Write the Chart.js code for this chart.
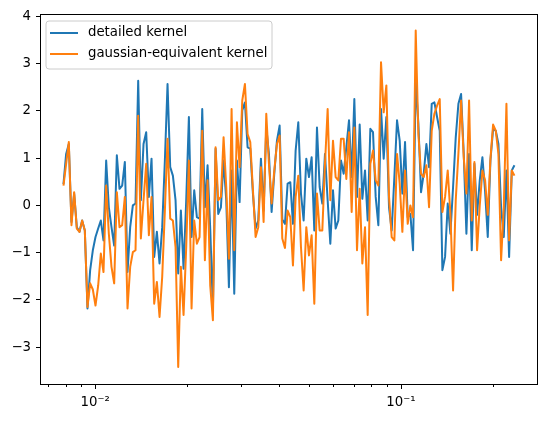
<!DOCTYPE html>
<html>
<head>
<meta charset="utf-8">
<script src="https://cdn.jsdelivr.net/npm/chart.js@4/dist/chart.umd.min.js"></script>
<style>
  html, body { margin: 0; padding: 0; background: #fff; }
  #wrap { width: 546px; height: 422px; }
</style>
</head>
<body>
<div id="wrap"><canvas id="kernelChart" width="546" height="422"></canvas></div>
<script>
// frequency grid (log spaced samples)
const N = 170;
const xStart = 0.007876;
const xEnd = 0.2350;
const freqs = Array.from({ length: N }, (_, i) => xStart * Math.pow(xEnd / xStart, i / (N - 1)));

const detailed = [
  0.45, 1.09, 1.30, -0.35, 0.25, -0.46, -0.56, -0.32, -0.53, -2.18,
  -1.37, -0.95, -0.67, -0.49, -0.32, -0.74, 0.95, -0.04, -0.46, -0.85,
  1.06, 0.35, 0.42, 0.92, -1.41, -0.46, 0.00, 0.04, 2.64, 0.11,
  1.30, 1.55, 0.18, 0.99, -1.09, -0.56, -1.23, -0.46, 0.95, 2.57,
  0.81, 0.63, 0.11, -1.44, -0.11, -1.34, 0.11, 1.87, -0.67, 0.32,
  -0.25, -0.28, 2.04, -0.04, 0.85, -0.50, -2.20, 1.20, -0.18, -0.04,
  0.95, 0.11, -1.73, 0.74, -1.87, 0.95, 0.07, 2.01, 2.18, 1.23,
  1.20, 0.25, -0.49, -0.32, 0.99, -0.11, 1.65, 1.09, -0.14, 0.67,
  1.37, 1.69, -0.30, -0.39, 0.46, 0.49, -0.39, 1.16, 1.76, 0.25,
  -0.32, 0.99, 0.60, 1.02, -0.53, 1.65, 0.39, 0.04, 1.09, 0.11,
  -0.81, 0.32, -0.49, -0.32, 0.95, 0.67, 1.23, 1.80, 0.60, 2.25,
  0.18, 1.71, 0.14, 0.74, -0.32, 1.62, 1.55, 0.18, -0.42, 2.04,
  0.99, 1.87, -0.04, -0.53, 0.60, 1.80, 1.37, 0.25, 1.34, -0.25,
  -0.18, -0.95, 2.64, 1.73, 0.28, 0.67, 1.30, 0.81, 2.15, 2.18,
  1.87, 1.58, -1.37, -1.09, 0.04, -0.60, 0.39, 1.44, 2.15, 2.36,
  1.09, -0.60, 1.09, -0.95, 0.88, -0.20, 0.53, 1.02, 0.30, -0.67,
  0.95, 1.62, 1.58, 1.30, -0.04, -0.67, 0.74, -1.09, 0.74, 0.85
];

const gaussianEq = [
  0.42, 0.88, 1.34, -0.42, 0.28, -0.49, -0.56, -0.32, -0.53, -2.15,
  -1.65, -1.78, -2.12, -1.70, -1.02, -1.41, 0.42, -0.60, -1.30, -1.65,
  0.28, -0.46, -0.42, 0.18, -2.18, -1.30, -0.99, -0.95, 1.90, -0.70,
  0.11, 0.88, -0.63, 0.18, -2.08, -1.62, -2.36, -1.51, -0.11, 1.41,
  -0.28, -0.32, -0.88, -3.42, -1.30, -2.32, -0.88, 0.95, -2.18, -0.32,
  -0.81, -0.67, 1.58, -1.16, 0.53, -1.70, -2.43, 1.23, 0.11, 0.18,
  1.44, 0.39, -1.13, 2.04, -0.95, 1.76, 0.81, 2.22, 2.57, 1.51,
  1.34, 0.32, -0.67, -0.46, 0.81, -0.35, 1.94, 0.88, 0.04, 0.74,
  1.30, 1.48, -0.70, -0.90, -0.11, -0.25, -1.27, 0.18, 0.63, -0.88,
  -1.80, -0.46, -1.06, -0.63, -2.08, 0.25, -0.53, -0.53, 0.88, 2.04,
  0.11, 1.37, 0.60, 0.53, 1.41, 1.41, 0.56, 1.55, -0.14, 1.65,
  -0.95, 0.35, -1.23, -0.46, -2.32, 0.88, 1.16, 0.53, 0.42, 3.03,
  1.97, 2.54, 0.18, -0.67, -0.74, 1.09, 0.46, -0.56, 0.74, -0.39,
  0.00, -0.25, 3.70, 1.51, 0.67, 0.60, 0.85, -0.04, 1.58, 1.94,
  2.11, 2.25, -0.14, 0.18, 0.74, -0.18, -1.80, 0.11, 1.10, 2.22,
  1.02, 0.25, 2.22, -0.32, 0.92, -0.95, 0.00, 0.74, 0.53, -0.20,
  0.98, 1.71, 1.58, 1.09, -1.16, -0.04, 2.15, -0.74, 0.74, 0.63
];

const seriesLabels = ['detailed kernel', 'gaussian-equivalent kernel'];
const xMajorTicks = [0.01, 0.1];
const xMinorTicks = [0.007, 0.008, 0.009, 0.02, 0.03, 0.04, 0.05, 0.06, 0.07, 0.08, 0.09, 0.2];
const yTicks = [-3, -2, -1, 0, 1, 2, 3, 4];

const supers = { '-': '\u207B', '1': '\u00B9', '2': '\u00B2', '3': '\u00B3' };
function powLabel(v) {
  const e = String(Math.round(Math.log10(v)));
  return '10' + e.split('').map(c => supers[c] || c).join('');
}

const FONT_SIZE = 13.3;
Chart.defaults.font.family = "'DejaVu Sans', sans-serif";
Chart.defaults.font.size = FONT_SIZE;
Chart.defaults.color = '#000';

// frame + x tick marks (major longer than minor)
const framePlugin = {
  id: 'frame',
  afterDraw(chart) {
    const { ctx, chartArea: a, scales } = chart;
    ctx.save();
    ctx.strokeStyle = '#000';
    ctx.lineWidth = 1;
    ctx.strokeRect(Math.round(a.left) - 0.5, Math.round(a.top) - 0.5,
      Math.round(a.right - a.left) + 1, Math.round(a.bottom - a.top) + 1);
    const xs = scales.x;
    const marks = xMajorTicks.map(v => [v, 5]).concat(xMinorTicks.map(v => [v, 3]));
    marks.forEach(([v, len]) => {
      const px = Math.round(xs.getPixelForValue(v)) + 0.5;
      ctx.beginPath();
      ctx.moveTo(px, Math.round(a.bottom));
      ctx.lineTo(px, Math.round(a.bottom) + len);
      ctx.stroke();
    });
    ctx.restore();
  }
};

// matplotlib-style legend in the upper left corner
const legendPlugin = {
  id: 'boxLegend',
  afterDraw(chart) {
    const ctx = chart.ctx;
    const a = chart.chartArea;
    const x = a.left + 5, y = a.top + 6, w = 226, h = 48, r = 3;
    ctx.save();
    ctx.beginPath();
    ctx.moveTo(x + r, y);
    ctx.lineTo(x + w - r, y);
    ctx.arcTo(x + w, y, x + w, y + r, r);
    ctx.lineTo(x + w, y + h - r);
    ctx.arcTo(x + w, y + h, x + w - r, y + h, r);
    ctx.lineTo(x + r, y + h);
    ctx.arcTo(x, y + h, x, y + h - r, r);
    ctx.lineTo(x, y + r);
    ctx.arcTo(x, y, x + r, y, r);
    ctx.closePath();
    ctx.fillStyle = 'rgba(255,255,255,0.8)';
    ctx.fill();
    ctx.strokeStyle = '#cccccc';
    ctx.lineWidth = 1;
    ctx.stroke();
    ctx.font = FONT_SIZE + "px 'DejaVu Sans', sans-serif";
    ctx.textBaseline = 'middle';
    chart.data.datasets.forEach((ds, i) => {
      const ly = y + 12 + i * 21;
      ctx.strokeStyle = ds.borderColor;
      ctx.lineWidth = 2;
      ctx.beginPath();
      ctx.moveTo(x + 4, ly);
      ctx.lineTo(x + 32, ly);
      ctx.stroke();
      ctx.fillStyle = '#000';
      ctx.fillText(ds.label, x + 42, ly);
    });
    ctx.restore();
  }
};

new Chart(document.getElementById('kernelChart'), {
  type: 'line',
  data: {
    datasets: [
      {
        label: seriesLabels[0],
        data: freqs.map((f, i) => ({ x: f, y: detailed[i] })),
        borderColor: '#1f77b4',
        borderWidth: 2,
        pointRadius: 0,
        tension: 0,
        borderJoinStyle: 'round',
        order: 1
      },
      {
        label: seriesLabels[1],
        data: freqs.map((f, i) => ({ x: f, y: gaussianEq[i] })),
        borderColor: '#ff7f0e',
        borderWidth: 2,
        pointRadius: 0,
        tension: 0,
        borderJoinStyle: 'round',
        order: 0
      }
    ]
  },
  options: {
    responsive: false,
    animation: false,
    layout: { padding: { left: 0, right: 9, top: 15, bottom: 0 } },
    plugins: {
      legend: { display: false },
      tooltip: { enabled: false }
    },
    scales: {
      x: {
        type: 'logarithmic',
        min: 0.00665,
        max: 0.2785,
        afterBuildTicks: (scale) => {
          scale.ticks = xMajorTicks.concat(xMinorTicks).sort((p, q) => p - q).map(v => ({ value: v }));
        },
        afterFit: (scale) => { scale.height = 38; },
        grid: { display: false },
        border: { display: false },
        ticks: {
          autoSkip: false,
          maxRotation: 0,
          padding: 3,
          callback: (v) => xMajorTicks.includes(v) ? powLabel(v) : ''
        }
      },
      y: {
        min: -3.78,
        max: 4.03,
        afterBuildTicks: (scale) => {
          scale.ticks = yTicks.map(v => ({ value: v }));
        },
        afterFit: (scale) => { scale.width = 41; },
        grid: { display: true, drawOnChartArea: false, drawTicks: true, tickLength: 5, color: '#000' },
        border: { display: false },
        ticks: {
          padding: 5,
          callback: (v) => v < 0 ? '\u2212' + Math.abs(v) : String(v)
        }
      }
    }
  },
  plugins: [framePlugin, legendPlugin]
});
</script>
</body>
</html>
